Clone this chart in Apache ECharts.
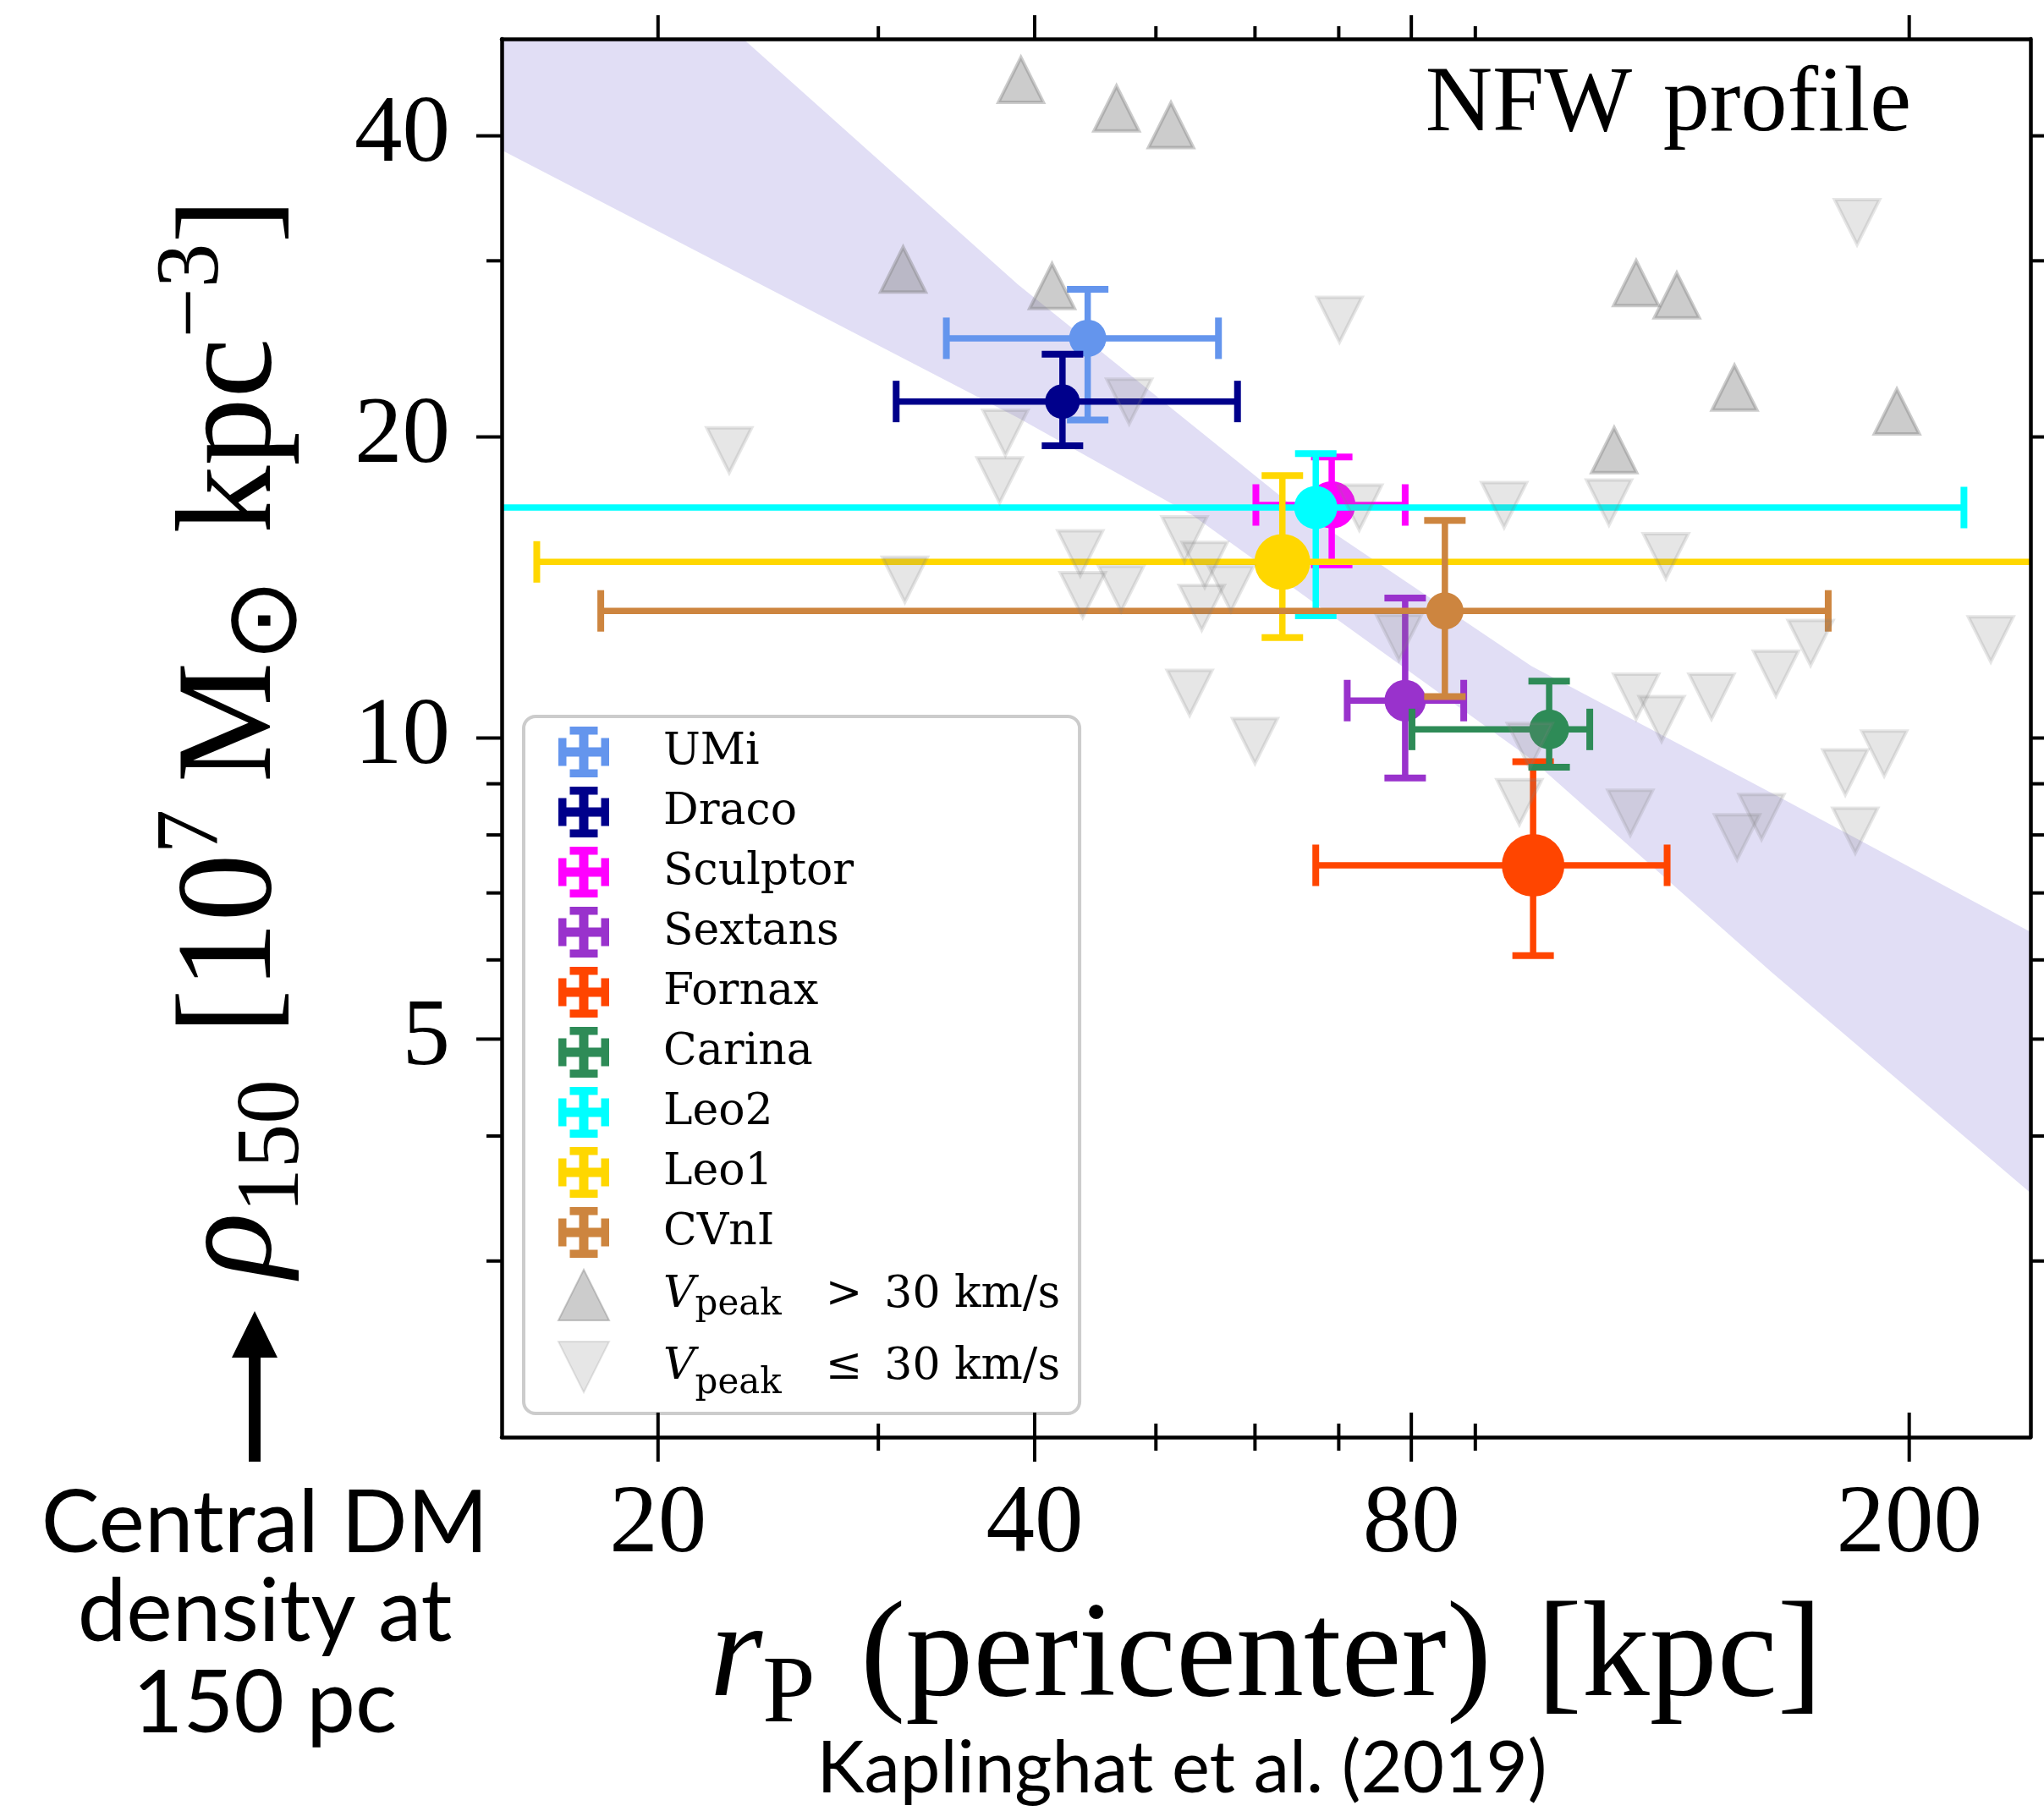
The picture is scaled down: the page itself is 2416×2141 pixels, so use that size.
<!DOCTYPE html>
<html>
<head>
<meta charset="utf-8">
<script src="https://cdn.jsdelivr.net/npm/echarts@6/dist/echarts.min.js"></script>
<style>
  html, body { margin: 0; padding: 0; background: #ffffff; }
  #chart { width: 2416px; height: 2141px; }
</style>
</head>
<body>
<div id="chart"></div>
<script>
// Milky Way dwarf spheroidals: orbital pericenter vs. central DM density at 150 pc (NFW fits)
const galaxies = ['UMi', 'Draco', 'Sculptor', 'Sextans', 'Fornax', 'Carina', 'Leo2', 'Leo1', 'CVnI'];
const rPeri    = [44.1, 42.1, 69.1, 79.1, 100.1, 103.1, 67.1, 63.1, 85.1];
const rPeriLo  = [34.0, 31.0, 60.1, 71.1, 67.1, 80.1, 12.0, 16.0, 18.0];
const rPeriHi  = [56.1, 58.1, 79.1, 88.1, 128.1, 111.1, 221.2, 300.0, 172.3];
const rho150   = [25.1, 21.7, 17.1, 10.9, 7.46, 10.2, 17.0, 15.0, 13.4];
const rho150Lo = [20.8, 19.6, 14.9, 9.12, 6.06, 9.35, 13.25, 12.6, 11.0];
const rho150Hi = [28.1, 24.2, 19.1, 13.8, 9.47, 11.4, 19.25, 18.3, 16.5];

// simulated subhalos, split by peak circular velocity
const heavyRp  = [39.0, 46.5, 51.4, 31.4, 41.3, 121.0, 130.4, 145.0, 195.5, 116.2];
const heavyRho = [45.5, 42.6, 41.0, 29.4, 28.3, 28.5, 27.7, 22.4, 21.2, 19.4];
const lightRp  = [22.8, 37.9, 37.5, 47.6, 70.1, 181.7, 94.9, 115.1, 72.7, 43.5, 43.7, 46.9,
                  52.7, 54.7, 57.4, 54.4, 53.2, 60.0, 78.2, 97.6, 99.5, 127.8, 166.8, 156.5,
                  232.4, 121.0, 126.8, 139.0, 177.8, 191.0, 119.7, 152.4, 145.7, 181.1, 31.5];
const lightRho = [19.4, 20.2, 18.1, 21.7, 26.2, 32.8, 17.1, 17.2, 17.0, 15.3, 13.9, 14.1,
                  15.8, 14.9, 14.1, 13.5, 11.1, 9.93, 12.6, 8.63, 9.82, 15.2, 12.45, 11.6,
                  12.55, 11.0, 10.45, 11.0, 9.24, 9.65, 8.42, 8.34, 7.96, 8.08, 14.4];

// confidence band of the rho150 - r_p relation (edges of the shaded region)
const bandUpperRp  = [15, 23.4, 38.8, 63.8, 99.8, 157.2, 250];
const bandUpperRho = [50, 50, 28.4, 17.2, 11.8, 8.74, 6.40];
const bandLowerRp  = [15, 38.8, 53.5, 99.8, 155.3, 250];
const bandLowerRho = [38.7, 20.9, 16.7, 9.52, 5.83, 3.51];

// axes
const X_MIN = 15, X_MAX = 250, Y_MIN = 2, Y_MAX = 50;
const xMajorTicks = [20, 40, 80, 200];
const xMinorTicks = [30, 50, 60, 70, 90];
const xTickLabels = ['20', '40', '80', '200'];
const yMajorTicks = [5, 10, 20, 40];
const yMinorTicks = [3, 4, 6, 7, 8, 9, 30];
const yTickLabels = ['5', '10', '20', '40'];

// styling
const galaxyColor = {
  UMi: '#6495ED', Draco: '#00008B', Sculptor: '#FF00FF', Sextans: '#9932CC', Fornax: '#FF4500',
  Carina: '#2E8B57', Leo2: '#00FFFF', Leo1: '#FFD700', CVnI: '#CD853F'
};
const markerDiameter = {
  UMi: 44, Draco: 41, Sculptor: 56, Sextans: 49, Fornax: 74, Carina: 47, Leo2: 51, Leo1: 66, CVnI: 44
};
const SERIF = '"Liberation Serif", "DejaVu Serif", serif';
const LEGEND_SERIF = '"DejaVu Serif", "Liberation Serif", serif';
const SANS = 'Lato, "Noto Sans", sans-serif';
const HEAVY = 'Vpeak > 30 km/s';
const LIGHT = 'Vpeak \u2264 30 km/s';
const crossIcon = 'path://M24.5,4h11v20.5h20.5v11h-20.5v20.5h-11v-20.5h-20.5v-11h20.5z' +
  'M13.5,0h33v9.5h-33z M13.5,50.5h33v9.5h-33z M0,13.5h9.5v33h-9.5z M50.5,13.5h9.5v33h-9.5z';
const downTriangle = 'path://M0,0L2,0L1,2Z';

function errorbarRenderer(name) {
  const col = galaxyColor[name];
  const rad = markerDiameter[name] / 2;
  const cap = 24.5;
  const seg = (x1, y1, x2, y2, w) => ({
    type: 'line', shape: { x1, y1, x2, y2 }, style: { stroke: col, lineWidth: w }
  });
  return function (params, api) {
    const x = api.value(0), y = api.value(1);
    const c = api.coord([x, y]);
    const l = api.coord([api.value(2), y]);
    const r = api.coord([api.value(3), y]);
    const b = api.coord([x, api.value(4)]);
    const t = api.coord([x, api.value(5)]);
    return {
      type: 'group',
      children: [
        seg(l[0], l[1], r[0], r[1], 7.5),
        seg(b[0], b[1], t[0], t[1], 7.5),
        seg(l[0], l[1] - cap, l[0], l[1] + cap, 8),
        seg(r[0], r[1] - cap, r[0], r[1] + cap, 8),
        seg(t[0] - cap, t[1], t[0] + cap, t[1], 8),
        seg(b[0] - cap, b[1], b[0] + cap, b[1], 8),
        { type: 'circle', shape: { cx: c[0], cy: c[1], r: rad }, style: { fill: col } }
      ]
    };
  };
}

const galaxySeries = galaxies.map((name, i) => ({
  type: 'custom',
  name: name,
  clip: true,
  z: 3,
  silent: true,
  itemStyle: { color: galaxyColor[name] },
  encode: { x: 0, y: 1 },
  data: [[rPeri[i], rho150[i], rPeriLo[i], rPeriHi[i], rho150Lo[i], rho150Hi[i]]],
  renderItem: errorbarRenderer(name)
}));

const bandSeries = {
  type: 'custom',
  clip: true,
  silent: true,
  z: 1,
  data: [[bandUpperRp[0], bandUpperRho[0]]],
  renderItem: function (params, api) {
    const pts = [];
    bandUpperRp.forEach((x, i) => pts.push(api.coord([x, bandUpperRho[i]])));
    for (let i = bandLowerRp.length - 1; i >= 0; i--) pts.push(api.coord([bandLowerRp[i], bandLowerRho[i]]));
    return { type: 'polygon', shape: { points: pts }, style: { fill: 'rgba(106,90,205,0.2)' } };
  }
};

const tickLine = (x1, y1, x2, y2) => ({
  type: 'line', shape: { x1, y1, x2, y2 }, style: { stroke: '#000', lineWidth: 4 }
});

const xTickSeries = {
  type: 'custom',
  silent: true,
  z: 12,
  data: xMajorTicks.map(v => [v, Y_MIN, 1]).concat(xMinorTicks.map(v => [v, Y_MIN, 0])),
  renderItem: function (params, api) {
    const v = api.value(0), major = api.value(2) === 1;
    const pb = api.coord([v, Y_MIN]);
    const pt = api.coord([v, Y_MAX]);
    const inout = major ? 29 : 16;
    const out = major ? 28 : 15;
    const children = [
      tickLine(pb[0], pb[1] - inout, pb[0], pb[1] + inout),
      tickLine(pt[0], pt[1], pt[0], pt[1] - out)
    ];
    if (major) {
      children.push({
        type: 'text', x: pb[0], y: pb[1] + 105,
        style: {
          text: xTickLabels[params.dataIndex], fill: '#000',
          font: '115px ' + SERIF, align: 'center', verticalAlign: 'middle'
        }
      });
    }
    return { type: 'group', children };
  }
};

const yTickSeries = {
  type: 'custom',
  silent: true,
  z: 12,
  data: yMajorTicks.map(v => [X_MIN, v, 1]).concat(yMinorTicks.map(v => [X_MIN, v, 0])),
  renderItem: function (params, api) {
    const v = api.value(1), major = api.value(2) === 1;
    const pl = api.coord([X_MIN, v]);
    const pr = api.coord([X_MAX, v]);
    const len = major ? 30 : 18;
    const children = [
      tickLine(pl[0], pl[1], pl[0] - len, pl[1]),
      tickLine(pr[0], pr[1], pr[0] + len, pr[1])
    ];
    if (major) {
      children.push({
        type: 'text', x: pl[0] - 61, y: pl[1],
        style: {
          text: yTickLabels[params.dataIndex], fill: '#000',
          font: '113px ' + SERIF, align: 'right', verticalAlign: 'middle'
        }
      });
    }
    return { type: 'group', children };
  }
};

const heavySeries = {
  type: 'scatter',
  name: HEAVY,
  z: 4,
  silent: true,
  symbol: 'triangle',
  symbolSize: 53,
  itemStyle: { color: 'rgba(128,128,128,0.5)', borderColor: 'rgba(128,128,128,0.5)', borderWidth: 4 },
  data: heavyRp.map((x, i) => [x, heavyRho[i]])
};

const lightSeries = {
  type: 'scatter',
  name: LIGHT,
  z: 4,
  silent: true,
  symbol: downTriangle,
  symbolSize: 53,
  itemStyle: { color: 'rgba(128,128,128,0.25)', borderColor: 'rgba(128,128,128,0.25)', borderWidth: 4 },
  data: lightRp.map((x, i) => [x, lightRho[i]])
};

function frameAxis(position, extra) {
  return Object.assign({
    type: 'log', logBase: 10, position: position, z: 10,
    axisLine: { show: true, onZero: false, lineStyle: { color: '#000', width: 4.5 } },
    axisTick: { show: false }, minorTick: { show: false },
    axisLabel: { show: false },
    splitLine: { show: false }, minorSplitLine: { show: false }
  }, extra);
}

const titleRich = {
  i: { fontFamily: SERIF, fontStyle: 'italic', fontSize: 160, lineHeight: 200, color: '#000' },
  sub: { fontFamily: SERIF, fontSize: 105, lineHeight: 126, verticalAlign: 'bottom', color: '#000' },
  subP: { fontFamily: SERIF, fontSize: 112, lineHeight: 126, verticalAlign: 'bottom', color: '#000' },
  sup: { fontFamily: SERIF, fontSize: 105, lineHeight: 110, verticalAlign: 'top', color: '#000' },
  odot: { fontFamily: '"DejaVu Sans", sans-serif', fontSize: 118, lineHeight: 124, verticalAlign: 'bottom', color: '#000' }
};

const option = {
  animation: false,
  backgroundColor: '#ffffff',
  grid: { left: 593, right: 16, top: 46, bottom: 442, containLabel: false },
  xAxis: [
    frameAxis('bottom', {
      min: X_MIN, max: X_MAX,
      name: '{i|r}{subP|P}\u2004(pericenter)\u2004[kpc]',
      nameLocation: 'middle', nameGap: 163,
      nameTextStyle: { fontFamily: SERIF, fontSize: 160, lineHeight: 200, color: '#000', rich: titleRich }
    }),
    frameAxis('top', { min: X_MIN, max: X_MAX })
  ],
  yAxis: [
    frameAxis('left', {
      min: Y_MIN, max: Y_MAX,
      name: '{i|\u03C1}{sub|150}\u2004[10{sup|7}\u2009M{odot|\u2299}\u2004kpc{sup|\u22123}]',
      nameLocation: 'middle', nameRotate: 90, nameGap: 216,
      nameTextStyle: { fontFamily: SERIF, fontSize: 160, lineHeight: 200, color: '#000', rich: titleRich }
    }),
    frameAxis('right', { min: Y_MIN, max: Y_MAX })
  ],
  legend: {
    orient: 'vertical',
    left: 619, top: 847,
    padding: [12, 23, 14, 40],
    itemWidth: 60, itemHeight: 60, itemGap: 11,
    selectedMode: false,
    backgroundColor: 'rgba(255,255,255,0.8)',
    borderColor: '#cccccc', borderWidth: 4, borderRadius: 14,
    textStyle: {
      fontFamily: LEGEND_SERIF, fontSize: 52, color: '#000', lineHeight: 60,
      padding: [0, 0, 0, 59],
      rich: {
        v1: { fontFamily: LEGEND_SERIF, fontStyle: 'italic', fontSize: 52, lineHeight: 66 },
        s1: { fontFamily: LEGEND_SERIF, fontSize: 42, lineHeight: 24, verticalAlign: 'bottom' },
        v2: { fontFamily: LEGEND_SERIF, fontStyle: 'italic', fontSize: 52, lineHeight: 82 },
        s2: { fontFamily: LEGEND_SERIF, fontSize: 42, lineHeight: 40, verticalAlign: 'bottom' }
      }
    },
    formatter: function (name) {
      if (name === HEAVY) return '{v1|V}{s1|peak}\u2003>\u200230 km/s';
      if (name === LIGHT) return '{v2|V}{s2|peak}\u2003\u2264\u200230 km/s';
      return name;
    },
    data: galaxies.map(n => ({ name: n, icon: crossIcon }))
      .concat([{ name: HEAVY, icon: 'triangle' }, { name: LIGHT, icon: downTriangle }])
  },
  graphic: [
    {
      type: 'text', x: 2259, y: 125, z: 20,
      style: { text: 'NFW\u2004profile', font: '110px ' + SERIF, fill: '#000', align: 'right', verticalAlign: 'middle' }
    },
    {
      type: 'polygon', z: 20,
      shape: { points: [[301, 1550], [328, 1605], [308, 1605], [308, 1728], [294, 1728], [294, 1605], [274, 1605]] },
      style: { fill: '#000' }
    },
    {
      type: 'text', x: 313, y: 1802, z: 20,
      style: { text: 'Central DM', font: '103px ' + SANS, fill: '#000', align: 'center', verticalAlign: 'middle' }
    },
    {
      type: 'text', x: 313, y: 1907, z: 20,
      style: { text: 'density at', font: '103px ' + SANS, fill: '#000', align: 'center', verticalAlign: 'middle' }
    },
    {
      type: 'text', x: 313, y: 2015, z: 20,
      style: { text: '150 pc', font: '103px ' + SANS, fill: '#000', align: 'center', verticalAlign: 'middle' }
    },
    {
      type: 'text', x: 1397, y: 2092, z: 20,
      style: { text: 'Kaplinghat et al. (2019)', font: '85px ' + SANS, fill: '#000', align: 'center', verticalAlign: 'middle' }
    }
  ],
  series: [bandSeries].concat(galaxySeries, [heavySeries, lightSeries, xTickSeries, yTickSeries])
};

const chart = echarts.init(document.getElementById('chart'), null, { renderer: 'canvas', width: 2416, height: 2141 });
chart.setOption(option);
</script>
</body>
</html>
